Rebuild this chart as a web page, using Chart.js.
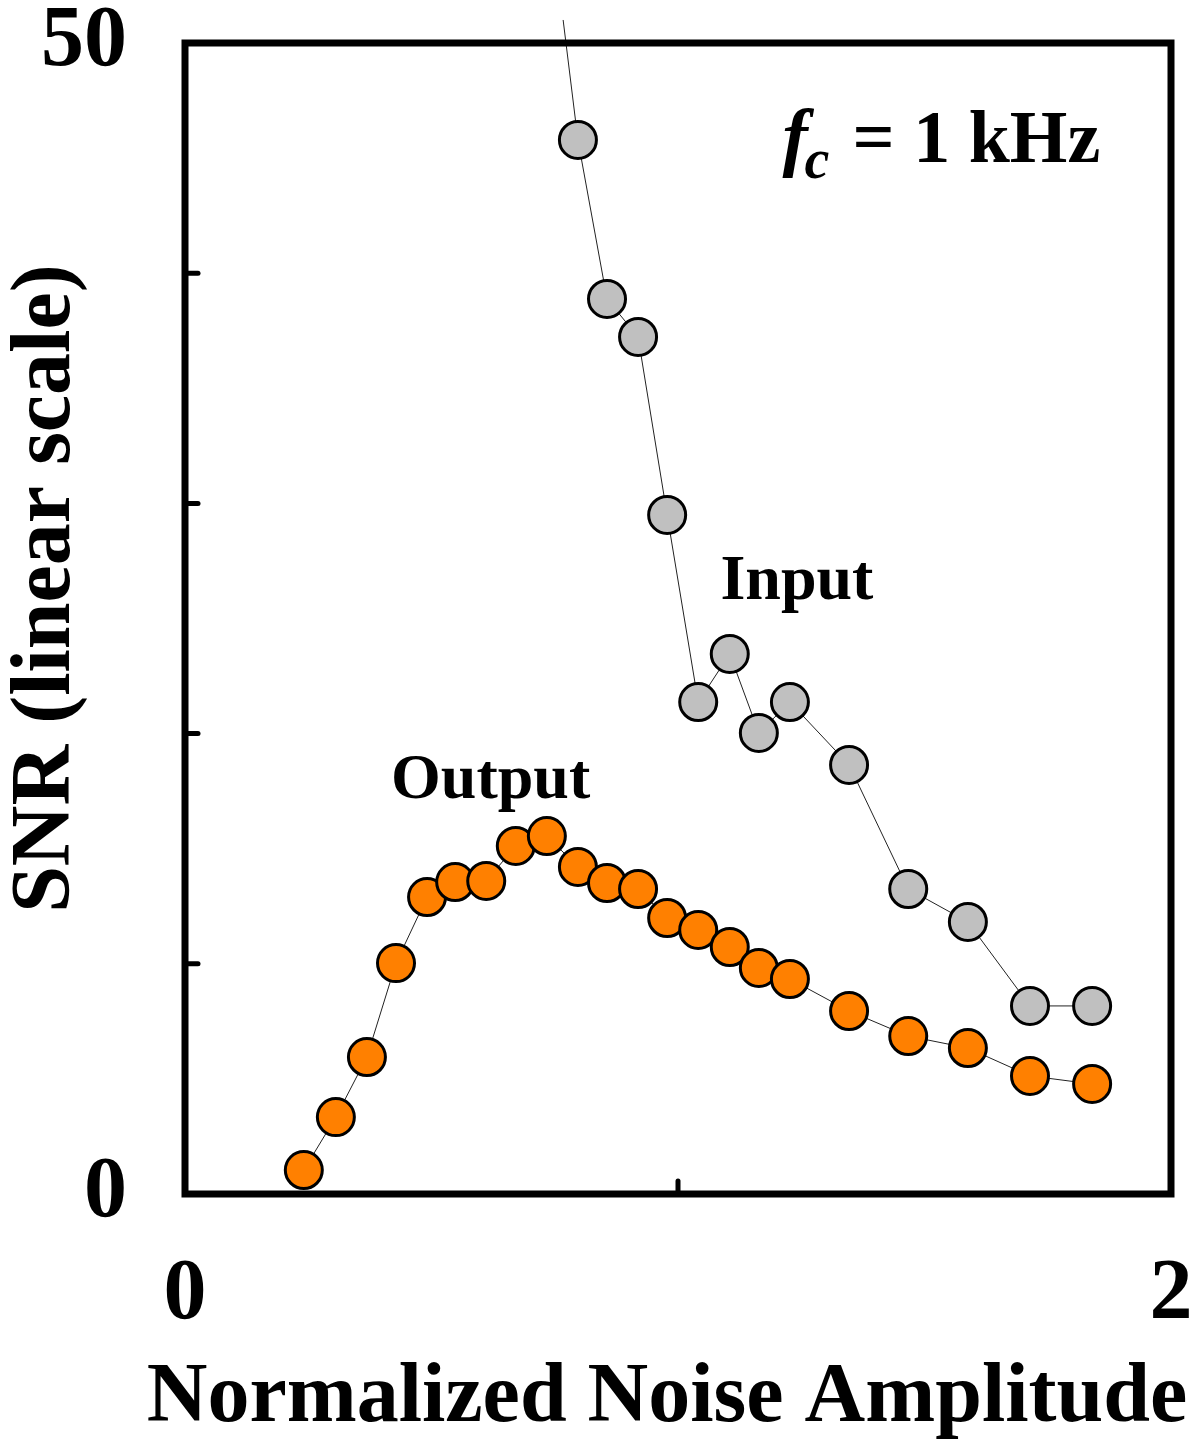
<!DOCTYPE html>
<html>
<head>
<meta charset="utf-8">
<script src="https://cdn.jsdelivr.net/npm/chart.js@4.4.1/dist/chart.umd.min.js"></script>
<style>
  html, body { margin: 0; padding: 0; background: #fff; }
  canvas { display: block; }
</style>
</head>
<body>
<canvas id="snrChart" width="1200" height="1443"></canvas>
<script>
// Values (x = normalized noise amplitude, y = SNR)
// first input point sits above the frame, only its line segment shows
const inputNoise = [0.767, 0.797, 0.856, 0.919, 0.978, 1.041, 1.105, 1.164, 1.227, 1.347, 1.467, 1.588, 1.714, 1.840];
const inputSnr = [51.0, 45.79, 38.88, 37.23, 29.50, 21.37, 23.46, 20.03, 21.37, 18.64, 13.25, 11.82, 8.17, 8.17];

const outputNoise = [0.241, 0.306, 0.369, 0.428, 0.491, 0.548, 0.611, 0.671, 0.734, 0.797, 0.856,
    0.919, 0.978, 1.041, 1.105, 1.164, 1.227, 1.347, 1.467, 1.588, 1.714, 1.840];
const outputSnr = [1.04, 3.34, 5.95, 10.03, 12.90, 13.55, 13.60, 15.12, 15.55, 14.21, 13.51,
    13.25, 11.99, 11.47, 10.73, 9.82, 9.34, 7.95, 6.86, 6.34, 5.13, 4.78];

const xLabeledTicks = [0, 2];
const yLabeledTicks = [0, 50];

const serif = '"Liberation Serif", "Times New Roman", serif';

function toPoints(xs, ys) {
    return xs.map((x, i) => ({ x: x, y: ys[i] }));
}

// frame, inward ticks, axis titles and the text notes
const frameAndNotes = {
    id: 'frameAndNotes',
    afterDraw(chart) {
        const { ctx, chartArea: area, scales: { x, y } } = chart;
        ctx.save();

        ctx.strokeStyle = '#000';
        ctx.lineJoin = 'miter';
        ctx.lineWidth = 7;
        ctx.strokeRect(area.left, area.top, area.right - area.left, area.bottom - area.top);

        ctx.lineWidth = 5;
        ctx.lineCap = 'round';
        y.ticks.forEach(t => {
            if (t.value <= y.min || t.value >= y.max) return;
            const py = y.getPixelForValue(t.value);
            ctx.beginPath();
            ctx.moveTo(area.left, py);
            ctx.lineTo(area.left + 13, py);
            ctx.stroke();
        });
        x.ticks.forEach(t => {
            if (t.value <= x.min || t.value >= x.max) return;
            const px = x.getPixelForValue(t.value);
            ctx.beginPath();
            ctx.moveTo(px, area.bottom);
            ctx.lineTo(px, area.bottom - 13);
            ctx.stroke();
        });

        ctx.fillStyle = '#000';
        ctx.font = 'bold 84px ' + serif;
        ctx.textAlign = 'center';
        ctx.textBaseline = 'middle';

        // x axis title (wider than the frame in the original, so drawn here)
        ctx.fillText('Normalized Noise Amplitude', area.left + (area.right - area.left) / 2 - 11, 1399);

        // y axis title
        ctx.save();
        ctx.translate(47, y.getPixelForValue(26.3));
        ctx.rotate(-Math.PI / 2);
        ctx.fillText('SNR (linear scale)', 0, 0);
        ctx.restore();

        ctx.textAlign = 'left';
        ctx.textBaseline = 'alphabetic';

        ctx.font = 'bold 64px ' + serif;
        ctx.fillText('Input', x.getPixelForValue(1.086), y.getPixelForValue(25.85));
        ctx.fillText('Output', x.getPixelForValue(0.418), y.getPixelForValue(17.2));

        // f_c = 1 kHz
        const fx = x.getPixelForValue(1.212);
        const fy = y.getPixelForValue(44.83);
        ctx.font = 'italic bold 76px ' + serif;
        ctx.fillText('f', fx, fy);
        ctx.font = 'italic bold 56px ' + serif;
        ctx.fillText('c', fx + 22, fy + 16);
        ctx.font = 'bold 74px ' + serif;
        ctx.fillText('= 1 kHz', fx + 70, fy);

        ctx.restore();
    }
};

new Chart(document.getElementById('snrChart'), {
    type: 'scatter',
    data: {
        datasets: [
            {
                label: 'Input',
                data: toPoints(inputNoise, inputSnr),
                showLine: true,
                clip: false,
                borderColor: '#222',
                borderWidth: 1,
                pointRadius: inputNoise.map((_, i) => i === 0 ? 0 : 18.5),
                pointBackgroundColor: '#c0c0c0',
                pointBorderColor: '#000',
                pointBorderWidth: 3
            },
            {
                label: 'Output',
                data: toPoints(outputNoise, outputSnr),
                showLine: true,
                borderColor: '#222',
                borderWidth: 1,
                pointRadius: 18.5,
                pointBackgroundColor: '#ff8000',
                pointBorderColor: '#000',
                pointBorderWidth: 3
            }
        ]
    },
    options: {
        responsive: false,
        animation: false,
        events: [],
        layout: {
            padding: { top: 43, right: 29, left: 0, bottom: 0 }
        },
        plugins: {
            legend: { display: false },
            tooltip: { enabled: false }
        },
        scales: {
            x: {
                type: 'linear',
                min: 0,
                max: 2,
                grid: { display: false },
                border: { display: false },
                afterFit(scale) {
                    scale.height = 249;
                    scale.paddingLeft = 0;
                    scale.paddingRight = 0;
                },
                ticks: {
                    stepSize: 1,
                    padding: 51,
                    maxRotation: 0,
                    color: '#000',
                    font: { family: serif, weight: 'bold', size: 86, lineHeight: 1 },
                    callback: v => xLabeledTicks.includes(v) ? String(v) : ''
                }
            },
            y: {
                type: 'linear',
                min: 0,
                max: 50,
                grid: { display: false },
                border: { display: false },
                afterFit(scale) {
                    scale.width = 185;
                    scale.paddingTop = 0;
                    scale.paddingBottom = 0;
                },
                ticks: {
                    stepSize: 10,
                    padding: 50,
                    color: '#000',
                    font: { family: serif, weight: 'bold', size: 86, lineHeight: 1 },
                    callback: v => yLabeledTicks.includes(v) ? String(v) : ''
                }
            }
        }
    },
    plugins: [frameAndNotes]
});
</script>
</body>
</html>
